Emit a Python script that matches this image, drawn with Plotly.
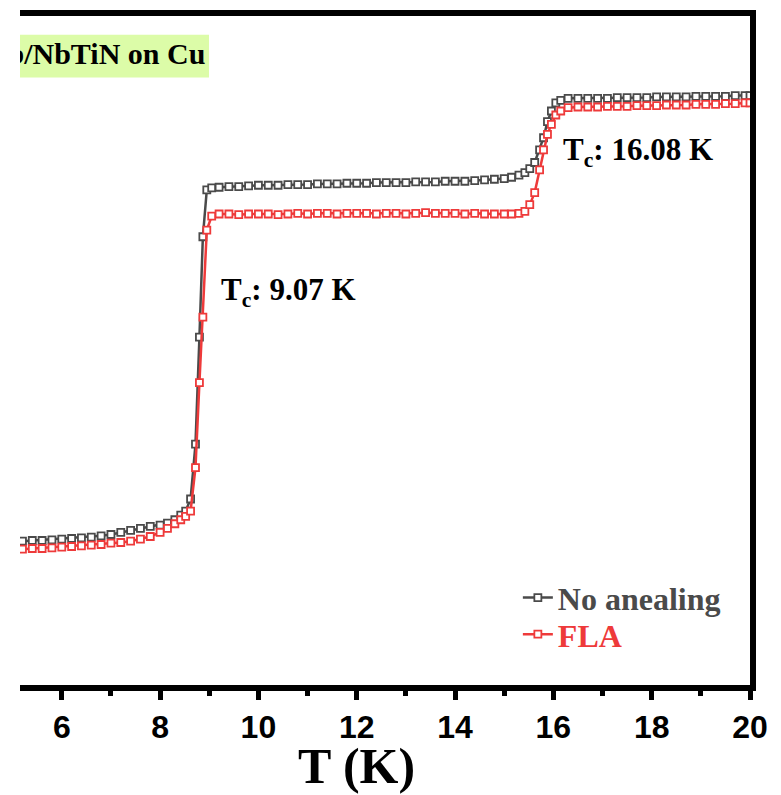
import plotly.graph_objects as go

# Temperature (K)
T = [5.2, 5.4, 5.6, 5.8, 6.0, 6.2, 6.4, 6.6, 6.8, 7.0,
     7.2, 7.4, 7.6, 7.8, 8.0, 8.15, 8.3, 8.42, 8.52, 8.62,
     8.72, 8.8, 8.87, 8.95, 9.05, 9.2, 9.4, 9.6, 9.8, 10.0,
     10.2, 10.4, 10.6, 10.8, 11.0, 11.2, 11.4, 11.6, 11.8, 12.0,
     12.2, 12.4, 12.6, 12.8, 13.0, 13.2, 13.4, 13.6, 13.8, 14.0,
     14.2, 14.4, 14.6, 14.8, 15.0, 15.15, 15.3, 15.42, 15.52, 15.62,
     15.72, 15.8, 15.88, 15.96, 16.05, 16.15, 16.3, 16.5, 16.7, 16.9,
     17.1, 17.3, 17.5, 17.7, 17.9, 18.1, 18.3, 18.5, 18.7, 18.9,
     19.1, 19.3, 19.5, 19.7, 19.9, 20.0]

# Signal, arbitrary units (y axis hidden in the reference)
no_annealing = [21.5, 21.6, 21.6, 21.7, 21.8, 21.9, 22.0, 22.1, 22.3, 22.5,
                22.8, 23.1, 23.4, 23.7, 23.9, 24.2, 24.7, 25.4, 26.0, 27.8,
                36.0, 52.0, 67.0, 74.0, 74.3, 74.4, 74.5, 74.5, 74.6, 74.7,
                74.7, 74.7, 74.8, 74.8, 74.8, 74.9, 74.9, 74.9, 75.0, 75.0,
                75.0, 75.1, 75.1, 75.1, 75.1, 75.2, 75.2, 75.2, 75.3, 75.3,
                75.3, 75.4, 75.5, 75.6, 75.7, 75.9, 76.2, 76.6, 77.2, 78.1,
                80.0, 81.8, 84.2, 85.8, 87.0, 87.4, 87.7, 87.7, 87.7, 87.7,
                87.7, 87.8, 87.8, 87.8, 87.8, 87.9, 87.9, 87.9, 87.9, 88.0,
                88.0, 88.0, 88.0, 88.1, 88.1, 88.1]

fla = [20.3, 20.4, 20.4, 20.5, 20.6, 20.7, 20.8, 20.9, 21.0, 21.2,
       21.3, 21.5, 21.8, 22.2, 22.8, 23.4, 24.1, 24.7, 25.2, 26.0,
       32.5, 45.2, 55.0, 68.0, 70.1, 70.4, 70.4, 70.3, 70.4, 70.4,
       70.4, 70.3, 70.4, 70.5, 70.4, 70.5, 70.5, 70.4, 70.5, 70.5,
       70.5, 70.4, 70.5, 70.5, 70.4, 70.5, 70.6, 70.5, 70.5, 70.5,
       70.4, 70.5, 70.4, 70.4, 70.4, 70.4, 70.5, 70.8, 71.8, 73.6,
       77.0, 80.0, 82.3, 83.8, 85.2, 85.8, 86.3, 86.4, 86.4, 86.4,
       86.5, 86.5, 86.5, 86.6, 86.6, 86.6, 86.7, 86.7, 86.7, 86.8,
       86.8, 86.8, 86.9, 86.9, 87.0, 87.0]

x_ticks = [6, 8, 10, 12, 14, 16, 18, 20]
series_names = ["No anealing", "FLA"]
tc_labels = ["T<sub>c</sub>: 9.07 K", "T<sub>c</sub>: 16.08 K"]
sample_label = "Nb/NbTiN on Cu"

GREY = "#4a4a4a"
RED = "#ee3a3a"
SERIF = "Liberation Serif, Times New Roman, serif"
SANS = "Liberation Sans, Arial, sans-serif"

fig = go.Figure()

# sample label box (clipped to the plot area like the cropped original)
fig.add_shape(type="rect", xref="x", yref="y", x0=4.5, x1=8.995, y0=90.8, y1=97.2,
              fillcolor="#dcfca8", line=dict(width=0), layer="below")
fig.add_trace(go.Scatter(x=[8.92], y=[94.0], mode="text", text=[f"<b>{sample_label}</b>"],
                         textposition="middle left", cliponaxis=True, showlegend=False,
                         hoverinfo="skip",
                         textfont=dict(family=SERIF, size=30, color="black")))

for i, (name, yv, col) in enumerate([(series_names[0], no_annealing, GREY),
                                     (series_names[1], fla, RED)]):
    fig.add_trace(go.Scatter(
        x=T, y=yv, mode="lines+markers",
        name=f'<span style="color:{col}"><b>{name}</b></span>',
        legend="legend" if i == 0 else "legend2",
        line=dict(color=col, width=2.5),
        marker=dict(symbol="square", size=7, color="white", line=dict(color=col, width=1.8)),
        cliponaxis=True,
    ))

fig.add_annotation(x=9.2, y=58.8, xref="x", yref="y", text=f"<b>{tc_labels[0]}</b>",
                   showarrow=False, xanchor="left", yanchor="middle",
                   font=dict(family=SERIF, size=31, color="black"))
fig.add_annotation(x=16.16, y=79.6, xref="x", yref="y", text=f"<b>{tc_labels[1]}</b>",
                   showarrow=False, xanchor="left", yanchor="middle",
                   font=dict(family=SERIF, size=31, color="black"))

# x axis title (placed as in the cropped original)
fig.add_annotation(x=0.4616, y=-0.1215, xref="paper", yref="paper", text="<b>T (K)</b>",
                   showarrow=False, xanchor="center", yanchor="middle",
                   font=dict(family=SERIF, size=50, color="black"))

leg_common = dict(xanchor="left", yanchor="middle", bgcolor="rgba(0,0,0,0)",
                  font=dict(family=SERIF, size=32, color=GREY), itemwidth=30)
fig.update_layout(
    width=781, height=795,
    margin=dict(l=20, r=31, t=10, b=110),
    paper_bgcolor="white", plot_bgcolor="white",
    showlegend=True,
    legend=dict(x=0.682, y=0.1304, **leg_common),
    legend2=dict(x=0.682, y=0.0756, **leg_common),
)
fig.update_xaxes(
    range=[5.15, 20], showgrid=False, zeroline=False,
    showline=True, linecolor="black", linewidth=6, mirror=True,
    ticks="outside", ticklen=9, tickwidth=5, tickcolor="black",
    tickvals=x_ticks, ticktext=[str(v) for v in x_ticks],
    tickfont=dict(family=SANS, size=32, color="black", weight="bold"),
    minor=dict(dtick=1, tick0=5, ticks="outside", ticklen=5, tickwidth=5, tickcolor="black"),
)
fig.update_yaxes(
    range=[0, 100], showgrid=False, zeroline=False,
    showline=True, linecolor="black", linewidth=6, side="right", mirror=False,
    ticks="", showticklabels=False,
)

fig.write_html("out.html")
